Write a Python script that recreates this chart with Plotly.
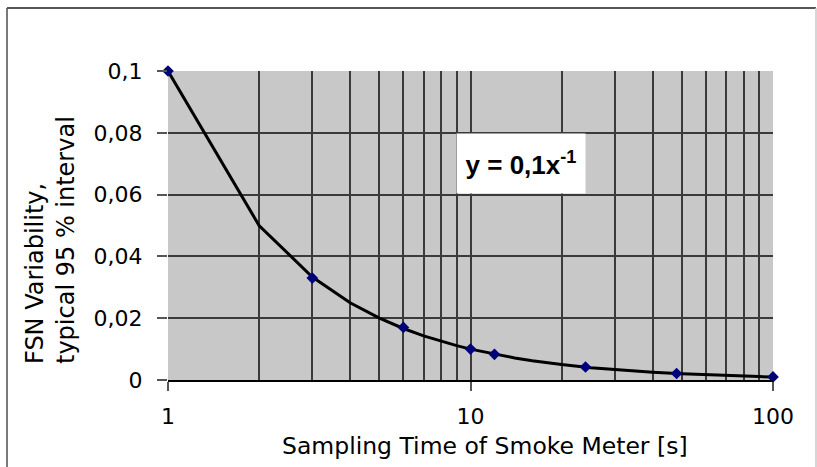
import plotly.graph_objects as go

# Measured FSN variability vs. sampling time
sampling_time = [1, 3, 6, 10, 12, 24, 48, 100]
fsn_variability = [0.1, 0.033, 0.017, 0.01, 0.0083, 0.0042, 0.0021, 0.001]

# Power trendline y = a * x^b
trend_a = 0.1
trend_b = -1
trend_x = [1, 2, 3, 4, 5, 6, 7, 8, 9, 10, 12, 14, 16, 20, 25, 30, 40, 50, 60, 70, 80, 90, 100]
trend_y = [trend_a * x ** trend_b for x in trend_x]

x_major = [1, 10, 100]
x_minor = [2, 3, 4, 5, 6, 7, 8, 9, 20, 30, 40, 50, 60, 70, 80, 90]

FONT = "DejaVu Sans, sans-serif"
GRID = "#3a3a3a"

fig = go.Figure()
fig.add_trace(go.Scatter(
    x=trend_x, y=trend_y, mode="lines",
    line=dict(color="black", width=3), hoverinfo="skip", showlegend=False,
))
fig.add_trace(go.Scatter(
    x=sampling_time, y=fsn_variability, mode="markers",
    marker=dict(symbol="diamond", color="#00007a", size=9),
    showlegend=False, cliponaxis=False,
))

W, H = 817, 467
L, R, T, B = 168, 44, 71, 87
pw, ph = W - L - R, H - T - B


def px(xp):
    return (xp - L) / pw


def py(yp):
    return (H - B - yp) / ph


# outer chart frame
frame = [
    dict(x0=px(7), x1=px(7), y0=py(8), y1=py(475), color="#7a7a7a", width=2),
    dict(x0=px(7), x1=px(816), y0=py(8), y1=py(8), color="#555555", width=2),
    dict(x0=px(816), x1=px(816), y0=py(8), y1=py(475), color="#c8c8c8", width=1.5),
]
for f in frame:
    fig.add_shape(type="line", xref="paper", yref="paper",
                  x0=f["x0"], x1=f["x1"], y0=f["y0"], y1=f["y1"],
                  line=dict(color=f["color"], width=f["width"]), layer="above")

fig.add_annotation(
    x=px(521), y=py(163.5), xref="paper", yref="paper",
    xanchor="center", yanchor="middle",
    text="<b>y = 0,1x<sup>-1</sup></b>", showarrow=False,
    font=dict(family="Liberation Sans, Arial, sans-serif", size=26, color="black"),
    bgcolor="white", width=128, height=59, borderpad=0,
)

fig.add_annotation(
    x=px(485), y=py(446), xref="paper", yref="paper",
    xanchor="center", yanchor="middle",
    text="Sampling Time of Smoke Meter [s]", showarrow=False,
    font=dict(family=FONT, size=23.5, color="black"),
)
fig.add_annotation(
    x=px(50), y=py(240), xref="paper", yref="paper",
    xanchor="center", yanchor="middle",
    text="FSN Variability,<br>typical 95 % interval", showarrow=False,
    textangle=-90, align="left",
    font=dict(family=FONT, size=24, color="black"),
)

fig.update_xaxes(
    type="log", range=[0, 2],
    tickmode="array", tickvals=x_major, ticktext=[str(v) for v in x_major],
    ticks="outside", ticklen=9, tickcolor="#555555", tickwidth=1.5,
    ticklabelstandoff=7,
    showgrid=True, gridcolor=GRID, gridwidth=1.5,
    minor=dict(tickmode="array", tickvals=x_minor, showgrid=True,
               gridcolor=GRID, gridwidth=1.5, ticks=""),
    showline=True, linecolor="black", linewidth=2,
    tickfont=dict(family=FONT, size=22, color="black"),
    zeroline=False,
)
fig.update_yaxes(
    range=[0, 0.1], dtick=0.02, tick0=0,
    ticks="outside", ticklen=10, tickcolor="#555555", tickwidth=1.5,
    ticklabelstandoff=10,
    showgrid=True, gridcolor=GRID, gridwidth=1.5,
    showline=False, zeroline=False,
    tickfont=dict(family=FONT, size=22, color="black"),
)

fig.update_layout(
    width=W, height=H,
    margin=dict(l=L, r=R, t=T, b=B),
    plot_bgcolor="#c8c8c8", paper_bgcolor="white",
    separators=", ",
)

fig.write_html("out.html")
